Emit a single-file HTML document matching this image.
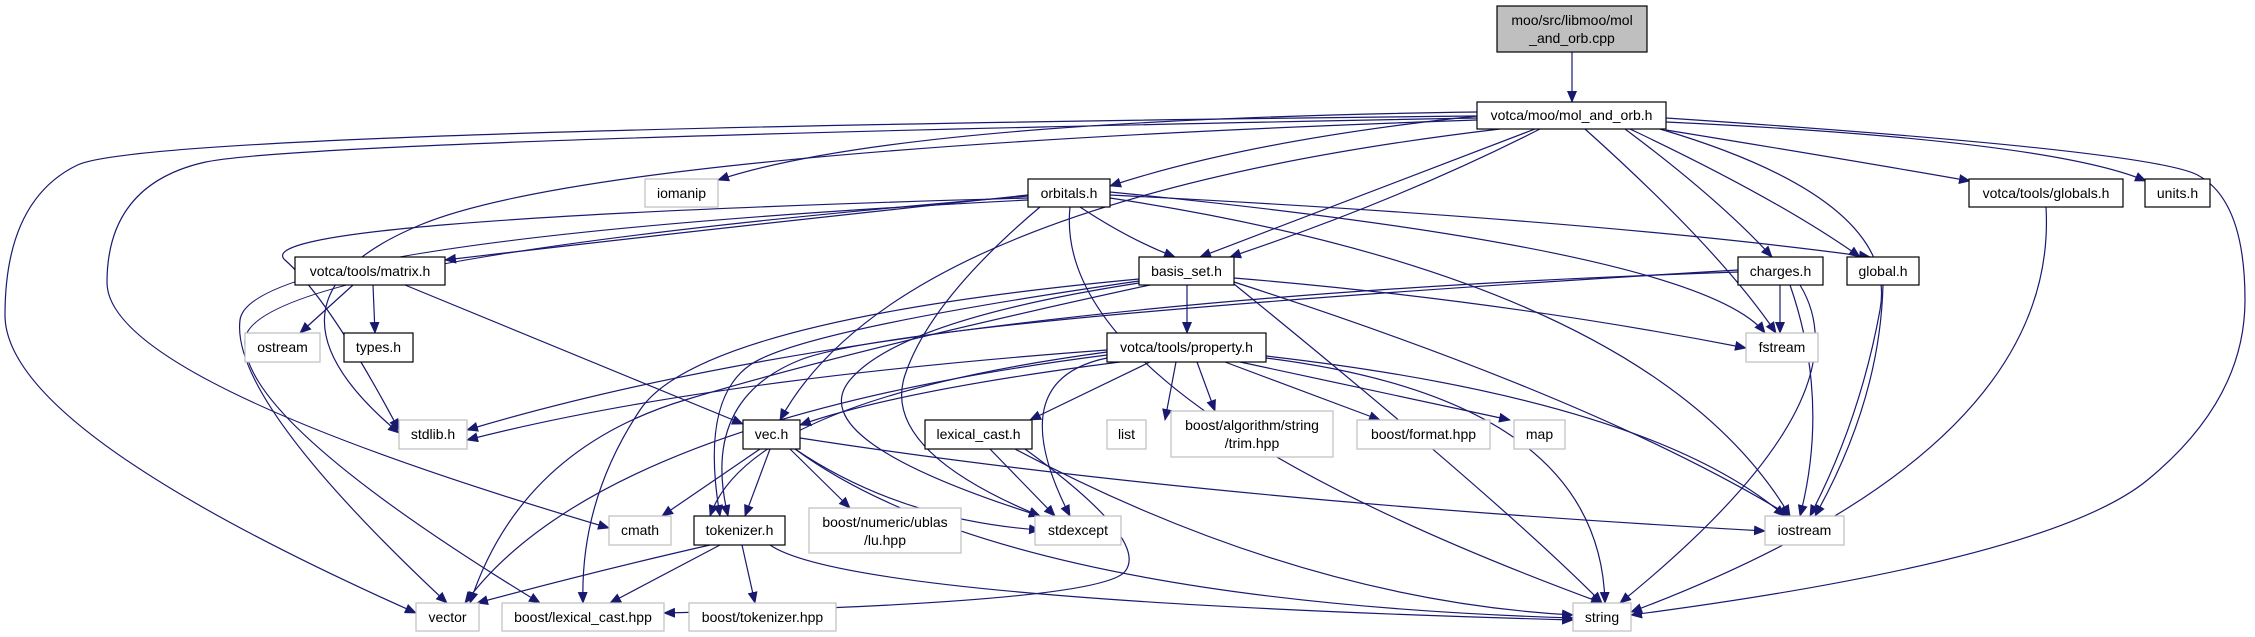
<!DOCTYPE html>
<html><head><meta charset="utf-8">
<style>
html,body{margin:0;padding:0;background:#fff;}
svg{display:block;}
text{font-family:"Liberation Sans","DejaVu Sans",sans-serif;font-size:14px;fill:#000;}
</style></head>
<body>
<svg id="g" width="2255" height="637" viewBox="0 0 2255 637" xmlns="http://www.w3.org/2000/svg">
<defs>
<marker id="a" markerWidth="12" markerHeight="10" refX="11" refY="5" orient="auto" markerUnits="userSpaceOnUse">
<path d="M0,0 L12,5 L0,10 z" fill="#191970"/>
</marker>
</defs>
<g id="edges" fill="none" stroke="#191970" stroke-width="1.2"></g>
<g id="nodes">
<rect x="1497" y="6" width="150" height="46" fill="#bfbfbf" stroke="#000" stroke-width="1.2"/>
<text x="1572" y="25" text-anchor="middle">moo/src/libmoo/mol</text>
<text x="1572" y="43" text-anchor="middle">_and_orb.cpp</text>
<rect x="1477" y="102" width="189" height="27" fill="#fff" stroke="#000" stroke-width="1.2"/><text x="1571.5" y="120" text-anchor="middle">votca/moo/mol_and_orb.h</text>
<rect x="645" y="179" width="73" height="28" fill="#fff" stroke="#bfbfbf" stroke-width="1.2"/><text x="681.5" y="198" text-anchor="middle">iomanip</text>
<rect x="1028" y="179" width="82" height="28" fill="#fff" stroke="#000" stroke-width="1.2"/><text x="1069" y="198" text-anchor="middle">orbitals.h</text>
<rect x="1969" y="179" width="154" height="28" fill="#fff" stroke="#000" stroke-width="1.2"/><text x="2046" y="198" text-anchor="middle">votca/tools/globals.h</text>
<rect x="2145" y="179" width="65" height="28" fill="#fff" stroke="#000" stroke-width="1.2"/><text x="2177.5" y="198" text-anchor="middle">units.h</text>
<rect x="295" y="257" width="150" height="28" fill="#fff" stroke="#000" stroke-width="1.2"/><text x="370" y="276" text-anchor="middle">votca/tools/matrix.h</text>
<rect x="1139" y="257" width="95" height="28" fill="#fff" stroke="#000" stroke-width="1.2"/><text x="1186.5" y="276" text-anchor="middle">basis_set.h</text>
<rect x="1738" y="257" width="85" height="28" fill="#fff" stroke="#000" stroke-width="1.2"/><text x="1780.5" y="276" text-anchor="middle">charges.h</text>
<rect x="1847" y="257" width="72" height="28" fill="#fff" stroke="#000" stroke-width="1.2"/><text x="1883" y="276" text-anchor="middle">global.h</text>
<rect x="245" y="333" width="75" height="29" fill="#fff" stroke="#bfbfbf" stroke-width="1.2"/><text x="282.5" y="352" text-anchor="middle">ostream</text>
<rect x="344" y="333" width="69" height="29" fill="#fff" stroke="#000" stroke-width="1.2"/><text x="378.5" y="352" text-anchor="middle">types.h</text>
<rect x="1107" y="333" width="159" height="29" fill="#fff" stroke="#000" stroke-width="1.2"/><text x="1186.5" y="352" text-anchor="middle">votca/tools/property.h</text>
<rect x="1746" y="333" width="72" height="29" fill="#fff" stroke="#bfbfbf" stroke-width="1.2"/><text x="1782" y="352" text-anchor="middle">fstream</text>
<rect x="399" y="420" width="68" height="29" fill="#fff" stroke="#bfbfbf" stroke-width="1.2"/><text x="433" y="439" text-anchor="middle">stdlib.h</text>
<rect x="743" y="420" width="57" height="29" fill="#fff" stroke="#000" stroke-width="1.2"/><text x="771.5" y="439" text-anchor="middle">vec.h</text>
<rect x="925" y="420" width="107" height="29" fill="#fff" stroke="#000" stroke-width="1.2"/><text x="978.5" y="439" text-anchor="middle">lexical_cast.h</text>
<rect x="1107" y="420" width="39" height="29" fill="#fff" stroke="#bfbfbf" stroke-width="1.2"/><text x="1126.5" y="439" text-anchor="middle">list</text>
<rect x="1171" y="411" width="162" height="46" fill="#fff" stroke="#bfbfbf" stroke-width="1.2"/><text x="1252" y="430" text-anchor="middle">boost/algorithm/string</text><text x="1252" y="448" text-anchor="middle">/trim.hpp</text>
<rect x="1357" y="420" width="133" height="29" fill="#fff" stroke="#bfbfbf" stroke-width="1.2"/><text x="1423.5" y="439" text-anchor="middle">boost/format.hpp</text>
<rect x="1514" y="420" width="51" height="29" fill="#fff" stroke="#bfbfbf" stroke-width="1.2"/><text x="1539.5" y="439" text-anchor="middle">map</text>
<rect x="609" y="516" width="62" height="29" fill="#fff" stroke="#bfbfbf" stroke-width="1.2"/><text x="640" y="535" text-anchor="middle">cmath</text>
<rect x="694" y="516" width="91" height="29" fill="#fff" stroke="#000" stroke-width="1.2"/><text x="739.5" y="535" text-anchor="middle">tokenizer.h</text>
<rect x="809" y="508" width="152" height="45" fill="#fff" stroke="#bfbfbf" stroke-width="1.2"/><text x="885" y="527" text-anchor="middle">boost/numeric/ublas</text><text x="885" y="545" text-anchor="middle">/lu.hpp</text>
<rect x="1035" y="516" width="86" height="29" fill="#fff" stroke="#bfbfbf" stroke-width="1.2"/><text x="1078" y="535" text-anchor="middle">stdexcept</text>
<rect x="1765" y="516" width="79" height="29" fill="#fff" stroke="#bfbfbf" stroke-width="1.2"/><text x="1804.5" y="535" text-anchor="middle">iostream</text>
<rect x="416" y="603" width="63" height="28" fill="#fff" stroke="#bfbfbf" stroke-width="1.2"/><text x="447.5" y="622" text-anchor="middle">vector</text>
<rect x="502" y="603" width="162" height="28" fill="#fff" stroke="#bfbfbf" stroke-width="1.2"/><text x="583" y="622" text-anchor="middle">boost/lexical_cast.hpp</text>
<rect x="689" y="603" width="147" height="28" fill="#fff" stroke="#bfbfbf" stroke-width="1.2"/><text x="762.5" y="622" text-anchor="middle">boost/tokenizer.hpp</text>
<rect x="1573" y="603" width="58" height="28" fill="#fff" stroke="#bfbfbf" stroke-width="1.2"/><text x="1602" y="622" text-anchor="middle">string</text>
</g>
</svg>
<script>
var E=[
// [points...] each edge: list of points, last is arrow tip
[[1572,52],[1572,102]],
// mol_and_orb.h
[[1477,112],[900,120],[718,180]],
[[1477,116],[1250,140],[1110,186]],
[[1500,129],[900,200],[780,420]],
[[1535,129],[1350,200],[1200,257]],
[[1540,129],[1400,200],[1230,257]],
[[1585,129],[1720,250],[1776,333]],
[[1625,129],[1720,200],[1772,257]],
[[1630,129],[1780,200],[1860,257]],
[[1660,129],[1900,200],[1860,420],[1810,516]],
[[1666,130],[1850,160],[1970,181]],
[[1666,122],[2050,140],[2146,181]],
[[1666,118],[2150,150],[2245,200],[2245,400],[2050,560],[1631,615]],
[[1477,116],[150,130],[5,200],[5,430],[416,613]],
[[1477,118],[300,140],[107,185],[107,380],[609,528]],
[[1477,120],[600,150],[240,300],[399,433]],
// orbitals.h
[[1080,207],[1130,240],[1175,257]],
[[1028,195],[700,230],[445,260]],
[[1110,195],[1600,220],[1870,257]],
[[1110,192],[1700,250],[1765,333]],
[[1110,198],[1650,280],[1790,516]],
[[1070,207],[1050,400],[1602,603]],
[[1028,198],[240,220],[330,300],[399,430]],
[[1028,200],[250,240],[230,400],[447,603]],
[[1028,196],[250,260],[240,420],[540,603]],
[[1040,207],[930,300],[880,450],[1040,516]],
// matrix.h
[[353,285],[300,333]],
[[373,285],[375,333]],
[[405,285],[743,424]],
// basis_set.h
[[1187,285],[1187,333]],
[[1234,278],[1500,300],[1746,348]],
[[1234,282],[1600,400],[1790,516]],
[[1234,284],[1500,500],[1602,603]],
[[1139,283],[900,320],[800,440],[1040,516]],
[[1139,281],[800,330],[700,400],[720,516]],
[[1139,279],[700,320],[580,500],[583,603]],
[[1150,285],[850,350],[520,450],[470,603]],
// charges.h
[[1780,285],[1780,333]],
[[1790,285],[1830,400],[1800,516]],
[[1800,285],[1870,400],[1620,603]],
[[1738,272],[900,300],[467,430]],
[[1738,270],[900,320],[700,400],[728,516]],
// global.h
[[1883,285],[1880,400],[1815,516]],
// globals.h
[[2046,207],[2060,450],[1631,612]],
// property.h
[[1176,362],[1165,420]],
[[1197,362],[1215,411]],
[[1225,362],[1380,420]],
[[1240,362],[1510,420]],
[[1150,362],[1030,420]],
[[1120,362],[900,390],[800,425]],
[[1107,350],[700,380],[467,440]],
[[1266,358],[1600,400],[1605,603]],
[[1266,356],[1650,400],[1785,516]],
[[1107,352],[750,400],[710,516]],
[[1107,355],[600,420],[465,603]],
[[1107,358],[1000,380],[1070,516]],
// lexical_cast.h
[[990,449],[1055,516]],
[[1015,449],[1300,600],[1573,615]],
[[1025,449],[1150,540],[1100,603],[664,613]],
// vec.h
[[760,449],[662,516]],
[[770,449],[745,516]],
[[790,449],[850,508]],
[[795,449],[900,520],[1040,530]],
[[800,438],[1200,500],[1765,531]],
[[795,449],[1000,600],[1573,618]],
// tokenizer.h
[[710,545],[600,570],[477,603]],
[[720,545],[610,603]],
[[742,545],[755,603]],
[[770,545],[850,600],[1573,620]]
];
var g=document.getElementById('edges');
E.forEach(function(p){
  var d='M'+p[0][0]+','+p[0][1];
  if(p.length==2){d+=' L'+p[1][0]+','+p[1][1];}
  else{
    for(var i=1;i<p.length-1;i++){
      var mx,my;
      if(i<p.length-2){mx=(p[i][0]+p[i+1][0])/2;my=(p[i][1]+p[i+1][1])/2;}
      else{mx=p[i+1][0];my=p[i+1][1];}
      d+=' Q'+p[i][0]+','+p[i][1]+' '+mx+','+my;
    }
  }
  var e=document.createElementNS('http://www.w3.org/2000/svg','path');
  e.setAttribute('d',d);e.setAttribute('marker-end','url(#a)');
  g.appendChild(e);
});
</script>
</body></html>
